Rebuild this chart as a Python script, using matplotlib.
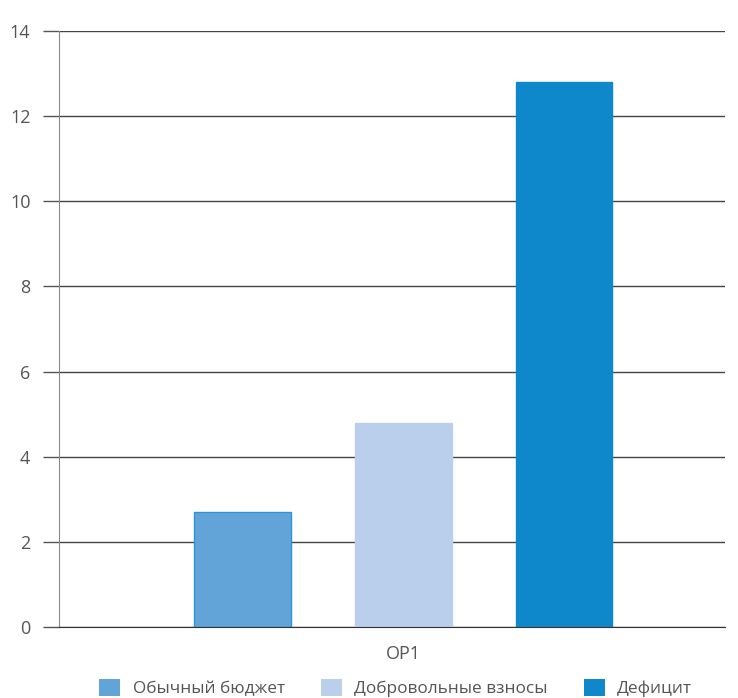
import matplotlib.pyplot as plt
from matplotlib.patches import Patch

plt.rcParams['font.family'] = ['Open Sans', 'DejaVu Sans']

series = ['Обычный бюджет', 'Добровольные взносы', 'Дефицит']
values = [2.7, 4.8, 12.8]
colors = ['#62a3d8', '#b9cfeb', '#0e88cb']
edges = ['#2a94d8', '#b9cfeb', '#0e88cb']
category = 'OP1'

fig = plt.figure(figsize=(7.38, 6.98), dpi=100)
ax = fig.add_axes([0.0799, 0.1017, 0.9025, 0.8539])

pos = [0, 1, 2]
ax.bar(pos, values, width=0.6, color=colors, edgecolor=edges, linewidth=1, zorder=3)

ax.set_xlim(-1.14, 3.0)
ax.set_ylim(0, 14)
ax.set_yticks(range(0, 15, 2))
ax.set_xticks([1])
ax.set_xticklabels([category])

ax.yaxis.grid(True, color='#444444', linewidth=1)
ax.set_axisbelow(True)
for s in ['top', 'right']:
    ax.spines[s].set_visible(False)
ax.spines['left'].set_color('#888888')
ax.spines['bottom'].set_color('#333333')
ax.spines['bottom'].set_zorder(4)

ax.tick_params(axis='y', direction='out', length=11.5, width=1, color='#555555',
               pad=9, labelsize=13, labelcolor='#555555')
ax.tick_params(axis='x', length=0, pad=13, labelsize=13, labelcolor='#555555')

handles = [Patch(facecolor=c, edgecolor='none') for c in colors]
fig.legend(handles, series, loc='center', bbox_to_anchor=(0.536, 0.0143), ncol=3,
           frameon=False, fontsize=12.4, labelcolor='#555555', handlelength=1.22,
           handleheight=1.2, handletextpad=0.7, columnspacing=2.1)

fig.savefig('out.png', dpi=100)
